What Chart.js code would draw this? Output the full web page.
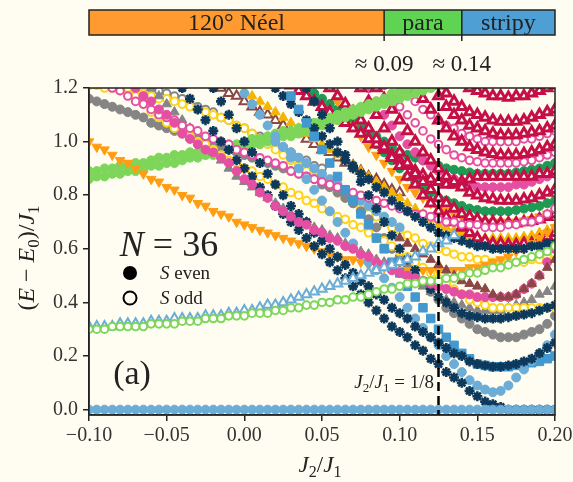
<!DOCTYPE html>
<html>
<head>
<meta charset="utf-8">
<style>
  html, body { margin: 0; padding: 0; background: #fffdf1; overflow: hidden; width: 573px; height: 482px; }
  canvas { display: block; }
</style>
<script src="https://cdn.jsdelivr.net/npm/chart.js@4.4.1/dist/chart.umd.min.js"></script>
</head>
<body>
<canvas id="spectrum" width="600" height="482"></canvas>
<script>
const _ = null;

// J2/J1 grid
const j2 = [
  -0.100, -0.095, -0.090, -0.085, -0.080, -0.075, -0.070, -0.065, -0.060, -0.055,
  -0.050, -0.045, -0.040, -0.035, -0.030, -0.025, -0.020, -0.015, -0.010, -0.005,
  0.000, 0.005, 0.010, 0.015, 0.020, 0.025, 0.030, 0.035, 0.040, 0.045,
  0.050, 0.055, 0.060, 0.065, 0.070, 0.075, 0.080, 0.085, 0.090, 0.095,
  0.100, 0.105, 0.110, 0.115, 0.120, 0.125, 0.130, 0.135, 0.140, 0.145,
  0.150, 0.155, 0.160, 0.165, 0.170, 0.175, 0.180, 0.185, 0.190, 0.195, 0.200
];

const xTicks = [-0.10, -0.05, 0.00, 0.05, 0.10, 0.15, 0.20];
const yTicks = [0.0, 0.2, 0.4, 0.6, 0.8, 1.0, 1.2];

const phaseEdges = [-0.1, 0.09, 0.14, 0.2];
const phaseNames = ["120° Néel", "para", "stripy"];
const phaseColors = ["#ff9a30", "#5fd352", "#4d9fd4"];
const phaseLabels = ["≈ 0.09", "≈ 0.14"];
const markJ2 = 0.125;

// levels (E - E0)/J1
const ground = [
  0, 0, 0, 0, 0, 0, 0, 0, 0, 0,
  0, 0, 0, 0, 0, 0, 0, 0, 0, 0,
  0, 0, 0, 0, 0, 0, 0, 0, 0, 0,
  0, 0, 0, 0, 0, 0, 0, 0, 0, 0,
  0, 0, 0, 0, 0, 0, 0, 0, 0, 0,
  0, 0, 0, 0, 0, 0, 0, 0, 0, 0, 0
];
const oddGreen = [
  0.30, 0.30, 0.30, 0.31, 0.31, 0.31, 0.31, 0.31, 0.32, 0.32,
  0.32, 0.32, 0.33, 0.33, 0.33, 0.34, 0.34, 0.34, 0.35, 0.35,
  0.35, 0.36, 0.36, 0.36, 0.37, 0.37, 0.38, 0.38, 0.39, 0.39,
  0.40, 0.40, 0.41, 0.41, 0.42, 0.42, 0.43, 0.44, 0.45, 0.45,
  0.46, 0.47, 0.47, 0.48, 0.48, 0.48, 0.49, 0.49, 0.50, 0.51,
  0.51, 0.52, 0.53, 0.53, 0.54, 0.55, 0.56, 0.57, 0.58, 0.59, 0.61
];
const oddBlueTri = [
  0.31, 0.31, 0.31, 0.31, 0.32, 0.32, 0.32, 0.32, 0.33, 0.33,
  0.33, 0.34, 0.34, 0.34, 0.34, 0.35, 0.35, 0.35, 0.36, 0.36,
  0.37, 0.37, 0.38, 0.39, 0.39, 0.40, 0.41, 0.42, 0.43, 0.44,
  0.45, 0.46, 0.47, 0.48, 0.49, 0.50, 0.51, 0.52, 0.53, 0.54,
  0.55, 0.56, 0.57, 0.59, 0.60, 0.62, 0.63, 0.65, _, _,
  _, _, _, _, _, _, _, _, _, _, _
];
const orangeTri = [
  1.00, 0.98, 0.97, 0.95, 0.93, 0.92, 0.90, 0.88, 0.86, 0.85,
  0.83, 0.82, 0.80, 0.79, 0.77, 0.76, 0.74, 0.73, 0.72, 0.70,
  0.69, 0.68, 0.67, 0.66, 0.65, 0.64, 0.63, 0.62, 0.61, 0.60,
  0.59, 0.58, 0.57, 0.56, 0.56, 0.55, 0.54, 0.54, 0.53, 0.53,
  0.52, 0.52, 0.52, 0.52, 0.52, 0.52, 0.52, 0.52, 0.52, 0.53,
  0.53, 0.54, 0.55, 0.56, 0.57, 0.59, 0.60, 0.62, 0.64, 0.66, 0.68
];
const pinkEven = [
  _, _, _, _, _, 1.22, 1.20, 1.17, 1.15, 1.12,
  1.10, 1.07, 1.03, 1.01, 0.99, 0.97, 0.96, 0.94, 0.92, 0.89,
  0.86, 0.84, 0.81, 0.79, 0.76, 0.74, 0.72, 0.70, 0.69, 0.67,
  0.66, 0.64, 0.63, 0.61, 0.60, 0.58, 0.57, 0.55, 0.54, 0.52,
  0.51, 0.50, 0.49, 0.48, 0.47, 0.46, 0.45, 0.44, 0.43, 0.43,
  0.42, 0.42, 0.42, 0.42, 0.42, 0.43, 0.45, 0.47, 0.50, 0.55, 0.60
];
const pinkOdd = [
  _, _, 1.22, 1.20, 1.19, 1.17, 1.15, 1.14, 1.12, 1.10,
  1.09, 1.08, 1.06, 1.05, 1.04, 1.02, 1.01, 1.00, 0.99, 0.97,
  0.96, 0.95, 0.94, 0.93, 0.92, 0.91, 0.89, 0.88, 0.87, 0.86,
  0.85, 0.84, 0.83, 0.82, 0.81, 0.80, 0.79, 0.78, 0.77, 0.76,
  0.75, 0.74, 0.73, 0.73, 0.72, 0.71, 0.70, 0.70, 0.69, 0.69,
  0.69, 0.68, 0.68, 0.68, 0.69, 0.69, 0.70, 0.70, 0.71, 0.73, 0.75
];
const grayEven = [
  1.16, 1.15, 1.14, 1.13, 1.12, 1.11, 1.10, 1.09, 1.07, 1.06,
  1.05, 1.04, 1.03, 1.02, 1.01, 1.00, 0.99, 0.98, 0.97, 0.96,
  0.95, 0.94, 0.93, 0.92, 0.91, 0.90, 0.89, 0.88, 0.87, 0.86,
  0.84, 0.83, 0.81, 0.79, 0.77, 0.74, 0.71, 0.68, 0.64, 0.60,
  0.57, 0.53, 0.50, 0.47, 0.44, 0.41, 0.38, 0.36, 0.34, 0.32,
  0.30, 0.29, 0.28, 0.27, 0.27, 0.27, 0.28, 0.29, 0.30, 0.32, 0.35
];
const grayTri = [
  _, _, _, _, _, _, _, _, 1.20, 1.17,
  1.14, 1.11, 1.08, 1.05, 1.02, 0.99, 0.96, 0.93, 0.90, 0.87,
  0.85, 0.83, 0.81, 0.79, 0.77, 0.75, 0.73, 0.72, 0.70, 0.68,
  0.67, 0.65, 0.64, 0.62, 0.61, 0.59, 0.58, 0.56, 0.55, 0.53,
  0.52, 0.50, 0.48, 0.46, 0.44, 0.42, 0.41, 0.40, 0.39, 0.38,
  0.37, 0.37, 0.37, 0.37, 0.38, 0.39, 0.40, 0.41, 0.43, 0.44, 0.46
];
const brownTri = [
  _, _, _, _, _, _, _, _, _, _,
  _, _, _, _, _, _, _, _, _, _,
  _, _, _, _, _, _, _, _, _, _,
  _, _, _, _, _, _, _, _, _, _,
  0.64, 0.62, 0.60, 0.58, 0.56, 0.54, 0.52, 0.50, 0.48, 0.47,
  0.46, 0.45, 0.43, 0.42, 0.42, 0.43, 0.45, 0.47, 0.50, 0.53, 0.56
];
const yellowLow = [
  _, _, _, _, _, 1.20, 1.17, 1.14, 1.11, 1.09,
  1.07, 1.05, 1.03, 1.02, 1.00, 0.99, 0.97, 0.95, 0.93, 0.92,
  0.90, 0.89, 0.87, 0.86, 0.84, 0.83, 0.81, 0.80, 0.78, 0.77,
  0.75, 0.74, 0.72, 0.71, 0.69, 0.68, 0.66, 0.64, 0.63, 0.61,
  0.59, 0.57, 0.55, 0.53, 0.51, 0.49, 0.47, 0.45, 0.43, 0.41,
  0.40, 0.39, 0.38, 0.38, 0.38, 0.38, 0.38, 0.38, 0.38, 0.38, 0.38
];
const yellowUp = [
  1.21, 1.21, 1.20, 1.20, 1.19, 1.19, 1.18, 1.18, 1.17, 1.16,
  1.16, 1.15, 1.14, 1.13, 1.12, 1.11, 1.10, 1.09, 1.08, 1.06,
  1.05, 1.03, 1.01, 0.99, 0.97, 0.95, 0.93, 0.91, 0.89, 0.87,
  0.85, 0.83, 0.81, 0.79, 0.77, 0.75, 0.73, 0.72, 0.70, 0.68,
  0.67, 0.65, 0.64, 0.62, 0.61, 0.60, 0.59, 0.58, 0.57, 0.57,
  0.56, 0.56, 0.55, 0.55, 0.55, 0.55, 0.55, 0.56, 0.56, 0.57, 0.58
];
const greenA = [
  0.89, 0.89, 0.90, 0.90, 0.91, 0.91, 0.92, 0.92, 0.93, 0.94,
  0.94, 0.95, 0.95, 0.96, 0.96, 0.97, 0.98, 0.98, 0.99, 0.99,
  1.00, 1.01, 1.01, 1.02, 1.03, 1.04, 1.04, 1.05, 1.06, 1.07,
  1.08, 1.09, 1.10, 1.11, 1.12, 1.13, 1.14, 1.15, 1.16, 1.18,
  1.19, 1.20, 1.21, _, _, _, _, _, _, _,
  _, _, _, _, _, _, _, _, _, _, _
];
const greenB = [
  0.86, 0.87, 0.87, 0.88, 0.88, 0.89, 0.89, 0.90, 0.91, 0.91,
  0.92, 0.92, 0.93, 0.94, 0.94, 0.95, 0.95, 0.96, 0.97, 0.97,
  0.98, 0.99, 0.99, 1.00, 1.01, 1.02, 1.02, 1.03, 1.04, 1.05,
  1.06, 1.07, 1.08, 1.09, 1.10, 1.11, 1.12, 1.13, 1.14, 1.15,
  1.16, 1.17, 1.18, 1.19, 1.20, 1.21, _, _, _, _,
  _, _, _, _, _, _, _, _, _, _, _
];
const navyA = [
  _, _, _, _, _, _, _, _, _, _,
  _, _, 1.20, 1.16, 1.12, 1.08, 1.04, 1.00, 0.97, 0.93,
  0.90, 0.87, 0.83, 0.80, 0.76, 0.73, 0.70, 0.67, 0.64, 0.61,
  0.58, 0.55, 0.52, 0.49, 0.46, 0.43, 0.40, 0.37, 0.34, 0.31,
  0.29, 0.27, 0.24, 0.22, 0.19, 0.17, 0.14, 0.12, 0.10, 0.07,
  0.05, 0.03, 0.02, 0.01, 0, 0, 0, 0, 0, 0, 0
];
const navyB = [
  _, _, _, _, _, _, _, _, _, _,
  _, _, _, _, _, _, 1.20, 1.15, 1.10, 1.05,
  1.00, 0.96, 0.92, 0.88, 0.84, 0.80, 0.76, 0.73, 0.70, 0.66,
  0.63, 0.60, 0.57, 0.54, 0.51, 0.48, 0.46, 0.43, 0.41, 0.38,
  0.36, 0.34, 0.31, 0.29, 0.27, 0.25, 0.23, 0.21, 0.20, 0.18,
  0.17, 0.165, 0.16, 0.16, 0.165, 0.17, 0.18, 0.19, 0.21, 0.23, 0.25
];
const navyC = [
  _, _, _, _, _, _, _, _, _, _,
  _, _, _, _, _, _, _, _, _, _,
  _, _, _, _, _, _, _, _, 1.20, 1.15,
  1.10, 1.05, 1.00, 0.95, 0.90, 0.85, 0.80, 0.75, 0.70, 0.65,
  0.60, 0.56, 0.52, 0.48, 0.45, 0.42, 0.40, 0.38, 0.36, 0.35,
  0.345, 0.34, 0.34, 0.34, 0.345, 0.35, 0.355, 0.36, 0.37, 0.38, 0.39
];
const navyUp = [
  _, _, _, _, _, _, _, _, _, _,
  _, _, _, _, _, _, _, _, _, _,
  _, _, _, _, 1.20, 1.17, 1.14, 1.11, 1.08, 1.05,
  1.02, 0.99, 0.96, 0.93, 0.91, 0.88, 0.86, 0.83, 0.81, 0.78,
  0.76, 0.74, 0.72, 0.70, 0.68, 0.66, 0.65, 0.64, 0.63, 0.62,
  0.61, 0.61, 0.60, 0.60, 0.60, 0.60, 0.60, 0.61, 0.61, 0.62, 0.62
];
const blueSq = [
  _, _, _, _, _, _, _, _, _, _,
  _, _, _, _, _, _, _, _, _, _,
  _, _, _, _, _, 1.22, 1.17, 1.12, 1.07, 1.02,
  0.97, 0.92, 0.87, 0.82, 0.78, 0.73, 0.69, 0.64, 0.60, 0.55,
  0.51, 0.46, 0.42, 0.38, 0.34, 0.30, 0.27, 0.24, 0.21, 0.19,
  0.17, 0.165, 0.16, 0.16, 0.16, 0.165, 0.17, 0.175, 0.18, 0.19, 0.20
];
const blueEven = [
  _, _, _, _, _, _, _, _, _, _,
  _, _, _, _, _, _, _, _, _, _,
  1.18, 1.14, 1.10, 1.06, 1.02, 0.98, 0.94, 0.90, 0.86, 0.82,
  0.78, 0.74, 0.70, 0.66, 0.62, 0.58, 0.55, 0.52, 0.49, 0.455,
  0.42, 0.38, 0.34, 0.305, 0.27, 0.24, 0.20, 0.17, 0.14, 0.11,
  0.09, 0.075, 0.065, 0.07, 0.09, 0.12, 0.15, 0.18, 0.21, 0.24, 0.28
];
const blueUp = [
  _, _, _, _, _, _, _, _, _, _,
  _, _, _, _, _, _, _, _, _, _,
  _, _, _, _, 1.00, 0.98, 0.96, 0.94, 0.92, 0.90,
  0.88, 0.86, 0.84, 0.82, 0.80, 0.78, 0.76, 0.74, 0.72, 0.70,
  0.68, _, _, _, _, _, _, _, _, _,
  _, _, _, _, _, _, _, _, _, _, _
];
const grayOdd = [
  _, _, _, _, _, _, _, _, 1.20, 1.19,
  1.18, 1.17, 1.16, 1.14, 1.13, 1.12, 1.11, 1.09, 1.08, 1.06,
  1.05, 1.03, 1.02, 1.00, 0.99, 0.97, 0.96, 0.94, 0.93, 0.91,
  0.90, _, _, _, _, _, _, _, _, _,
  _, _, _, _, _, _, _, _, _, _,
  _, _, _, _, _, _, _, _, _, _, _
];
const brownOdd = [
  _, _, _, _, _, _, _, _, _, _,
  _, _, _, _, _, _, _, 1.20, 1.18, 1.17,
  1.15, 1.13, 1.11, 1.10, 1.08, 1.06, 1.04, 1.03, 1.01, 0.99,
  0.97, 0.96, 0.94, 0.92, 0.91, 0.89, 0.87, 0.86, 0.84, 0.82,
  0.81, _, _, _, _, _, _, _, _, _,
  _, _, _, _, _, _, _, _, _, _, _
];
const goldTri = [
  _, _, _, _, _, _, _, _, _, _,
  _, _, _, _, _, _, _, _, _, 1.21,
  1.19, 1.17, 1.15, 1.13, 1.11, 1.09, 1.07, 1.05, 1.03, 1.01,
  0.99, 0.97, 0.95, 0.93, 0.91, 0.89, 0.87, 0.85, 0.83, 0.81,
  0.79, 0.77, 0.75, 0.73, 0.71, 0.69, 0.68, 0.67, 0.66, 0.65,
  0.645, 0.64, 0.64, 0.64, 0.64, 0.64, 0.645, 0.65, 0.66, 0.67, 0.68
];
const crim0 = [
  _, _, _, _, _, _, _, _, _, _,
  _, _, _, _, _, _, _, _, _, _,
  _, _, _, _, _, _, 1.21, 1.19, 1.17, 1.15,
  1.13, 1.11, 1.09, 1.07, 1.05, 1.03, 1.01, 0.99, 0.97, 0.95,
  0.93, 0.91, 0.89, 0.875, 0.86, 0.85, 0.84, 0.84, 0.85, 0.86,
  0.87, 0.87, 0.87, 0.87, 0.87, 0.87, 0.87, 0.87, 0.88, 0.88, 0.89
];
const crim1 = [
  _, _, _, _, _, _, _, _, _, _,
  _, _, _, _, _, _, _, _, _, _,
  _, _, _, _, _, _, _, _, _, _,
  _, 1.20, 1.17, 1.14, 1.11, 1.08, 1.05, 1.01, 0.98, 0.94,
  0.91, 0.87, 0.84, 0.80, 0.77, 0.74, 0.72, 0.70, 0.68, 0.66,
  0.64, 0.63, 0.62, 0.62, 0.615, 0.615, 0.62, 0.62, 0.63, 0.645, 0.66
];
const crim2 = [
  _, _, _, _, _, _, _, _, _, _,
  _, _, _, _, _, _, _, _, _, _,
  _, _, _, _, _, _, _, _, _, _,
  _, _, _, _, _, _, _, 1.20, 1.16, 1.12,
  1.08, 1.04, 1.00, 0.96, 0.93, 0.90, 0.87, 0.85, 0.83, 0.81,
  0.80, 0.79, 0.785, 0.78, 0.78, 0.78, 0.785, 0.79, 0.80, 0.81, 0.82
];
const crim3 = [
  _, _, _, _, _, _, _, _, _, _,
  _, _, _, _, _, _, _, _, _, _,
  _, _, _, _, _, _, _, _, _, _,
  _, _, _, _, _, _, _, _, _, _,
  _, _, 1.20, 1.16, 1.12, 1.08, 1.05, 1.02, 1.00, 0.98,
  0.97, 0.96, 0.955, 0.95, 0.95, 0.95, 0.955, 0.96, 0.97, 0.98, 0.99
];
const crim4 = [
  _, _, _, _, _, _, _, _, _, _,
  _, _, _, _, _, _, _, _, _, _,
  _, _, _, _, _, _, _, _, _, _,
  _, _, _, _, _, _, _, _, _, _,
  _, _, _, _, _, 1.21, 1.18, 1.15, 1.13, 1.11,
  1.10, 1.09, 1.08, 1.075, 1.075, 1.075, 1.08, 1.09, 1.10, 1.11, 1.12
];
const crim5 = [
  _, _, _, _, _, _, _, _, _, _,
  _, _, _, _, _, _, _, _, _, _,
  _, _, _, _, _, _, _, _, _, _,
  _, _, _, _, _, _, _, _, _, _,
  _, _, _, _, _, _, _, _, 1.22, 1.20,
  1.19, 1.18, 1.17, 1.17, 1.165, 1.17, 1.17, 1.18, 1.19, 1.20, 1.21
];
const crim6 = [
  _, _, _, _, _, _, _, _, _, _,
  _, _, _, _, _, _, _, _, _, _,
  _, _, _, _, _, _, _, _, _, _,
  _, _, _, _, _, _, _, _, _, _,
  _, _, _, _, 1.21, 1.17, 1.13, 1.10, 1.08, 1.06,
  1.05, 1.04, 1.03, 1.025, 1.025, 1.025, 1.03, 1.035, 1.04, 1.05, 1.06
];
const crim7 = [
  _, _, _, _, _, _, _, _, _, _,
  _, _, _, _, _, _, _, _, _, _,
  _, _, _, _, _, _, _, _, _, _,
  _, _, _, _, _, 1.20, 1.15, 1.10, 1.05, 1.00,
  0.96, 0.92, 0.88, 0.85, 0.82, 0.79, 0.77, 0.75, 0.73, 0.72,
  0.71, 0.70, 0.70, 0.695, 0.695, 0.695, 0.70, 0.705, 0.71, 0.72, 0.73
];
const pinkU2 = [
  _, _, _, _, _, _, _, _, _, _,
  _, _, _, _, _, _, _, _, _, _,
  _, _, _, _, _, _, _, _, _, _,
  _, _, _, _, _, _, 1.20, 1.15, 1.10, 1.06,
  1.02, 0.99, 0.96, 0.93, 0.91, 0.89, 0.87, 0.86, 0.85, 0.84,
  0.83, 0.83, 0.83, 0.83, 0.83, 0.84, 0.84, 0.85, 0.86, 0.87, 0.88
];
const pinkU3 = [
  _, _, _, _, _, _, _, _, _, _,
  _, _, _, _, _, _, _, _, _, _,
  _, _, _, _, _, _, _, _, _, _,
  _, _, _, _, _, _, _, _, _, _,
  1.22, 1.18, 1.15, 1.12, 1.10, 1.08, 1.06, 1.05, 1.03, 1.02,
  1.01, 1.00, 1.00, 1.00, 1.00, 1.00, 1.01, 1.01, 1.02, 1.03, 1.04
];
const pinkU4 = [
  _, _, _, _, _, _, _, _, _, _,
  _, _, _, _, _, _, _, _, _, _,
  _, _, _, _, _, _, _, _, _, _,
  _, _, _, _, _, _, _, _, 1.21, 1.17,
  1.13, 1.10, 1.07, 1.04, 1.01, 0.99, 0.97, 0.95, 0.94, 0.93,
  0.925, 0.92, 0.92, 0.92, 0.92, 0.92, 0.925, 0.93, 0.94, 0.95, 0.96
];
const dkGreen1 = [
  _, _, _, _, _, _, _, _, _, _,
  _, _, _, _, _, _, _, _, _, _,
  _, _, _, _, _, _, _, _, 1.20, 1.18,
  1.16, 1.14, 1.12, 1.10, 1.08, 1.06, 1.04, 1.02, 1.00, 0.98,
  0.96, 0.95, 0.94, 0.93, 0.92, 0.91, 0.90, 0.895, 0.89, 0.885,
  0.88, 0.88, 0.88, 0.88, 0.88, 0.885, 0.89, 0.895, 0.90, 0.91, 0.92
];
const dkGreen2 = [
  _, _, _, _, _, _, _, _, _, _,
  _, _, _, _, _, _, _, _, _, _,
  _, _, _, _, _, _, _, _, _, _,
  _, _, _, _, 1.10, 1.06, 1.02, 0.99, 0.96, 0.93,
  0.90, 0.87, 0.85, 0.83, 0.81, 0.79, 0.78, 0.77, 0.76, 0.75,
  0.745, 0.74, 0.74, 0.74, 0.74, 0.745, 0.75, 0.755, 0.76, 0.77, 0.78
];
const orangeU = [
  _, _, _, _, _, _, _, _, _, _,
  _, _, _, _, _, _, _, _, _, _,
  _, _, _, _, _, _, _, _, _, _,
  _, _, 1.15, 1.10, 1.06, 1.02, 0.98, 0.95, 0.92, 0.89,
  0.86, 0.83, 0.81, 0.79, 0.77, 0.75, 0.74, 0.73, 0.72, 0.71,
  0.705, 0.70, 0.70, 0.70, 0.70, 0.70, 0.705, 0.71, 0.72, 0.73, 0.74
];

const FONT = '"Liberation Serif", "DejaVu Serif", serif';
const INK = "#222";
const PAPER = "#fffdf1";

const LBLUE = "#6badd6", BLUE = "#4298cf", NAVY = "#0d3a5c", GRAY = "#858585";
const PINK = "#e54fa3", YELLOW = "#ffd21a", ORANGE = "#ff9d12", LGREEN = "#7dd65a";
const DGREEN = "#1f9a55", CRIMSON = "#c50f47", BROWN = "#8b4646", GOLD = "#f4b400";

// drawing order: first = bottom, last = top
const series = [
  { y: grayOdd, c: GRAY, m: "circle", open: true },
  { y: brownOdd, c: BROWN, m: "triangle", open: true },
  { y: goldTri, c: GOLD, m: "triangle" },
  { y: yellowUp, c: YELLOW, m: "circle", open: true },
  { y: dkGreen1, c: DGREEN, m: "circle" },
  { y: dkGreen2, c: DGREEN, m: "circle" },
  { y: orangeU, c: ORANGE, m: "triangle", rot: 180 },
  { y: pinkU3, c: PINK, m: "circle", open: true },
  { y: pinkU4, c: PINK, m: "circle", open: true },
  { y: pinkU2, c: PINK, m: "circle" },
  { y: crim0, c: CRIMSON, m: "triangle", open: true, thick: true },
  { y: crim1, c: CRIMSON, m: "triangle", open: true, thick: true },
  { y: crim2, c: CRIMSON, m: "triangle", open: true, thick: true },
  { y: crim3, c: CRIMSON, m: "triangle", open: true, thick: true },
  { y: crim4, c: CRIMSON, m: "triangle", open: true, thick: true },
  { y: crim5, c: CRIMSON, m: "triangle", open: true, thick: true },
  { y: crim6, c: CRIMSON, m: "triangle", open: true, thick: true },
  { y: crim7, c: CRIMSON, m: "triangle", open: true, thick: true },
  { y: greenB, c: LGREEN, m: "circle" },
  { y: greenA, c: LGREEN, m: "circle" },
  { y: blueUp, c: LBLUE, m: "circle" },
  { y: grayEven, c: GRAY, m: "circle" },
  { y: grayTri, c: GRAY, m: "triangle" },
  { y: yellowLow, c: YELLOW, m: "circle", open: true },
  { y: pinkOdd, c: PINK, m: "circle", open: true },
  { y: orangeTri, c: ORANGE, m: "triangle", rot: 180 },
  { y: navyUp, c: NAVY, m: "star" },
  { y: navyC, c: NAVY, m: "star" },
  { y: blueSq, c: BLUE, m: "rect" },
  { y: blueEven, c: LBLUE, m: "circle" },
  { y: navyB, c: NAVY, m: "star" },
  { y: navyA, c: NAVY, m: "star" },
  { y: pinkEven, c: PINK, m: "circle" },
  { y: brownTri, c: BROWN, m: "triangle" },
  { y: oddBlueTri, c: LBLUE, m: "triangle", open: true },
  { y: oddGreen, c: LGREEN, m: "circle", open: true },
  { y: ground, c: LBLUE, m: "circle" },
];

function radiusFor(s) {
  if (s.m === "rect") return 6;
  if (s.m === "triangle") return 5.5;
  if (s.m === "star") return 5;
  return s.open ? 3.8 : 4.5;
}
function borderFor(s) {
  if (s.m === "star") return 2.6;
  if (s.thick) return 3;
  return s.open ? 2 : 1;
}

const datasets = series.map((s, i) => ({
  data: j2.map((x, k) => ({ x: x, y: s.y[k] })).filter(p => p.y !== null),
  showLine: false,
  clip: 0,
  pointStyle: s.m,
  pointRotation: s.rot || 0,
  pointRadius: radiusFor(s),
  pointBorderWidth: borderFor(s),
  pointBorderColor: s.c,
  pointBackgroundColor: s.open ? "#fffef8" : s.c,
  order: series.length - i,
}));

// rich text: parts are [text, flags] with flags "i" italic, "s" subscript
function rich(ctx, parts, x, y, size, align) {
  const fontOf = f => (f.includes("i") ? "italic " : "") + (f.includes("s") ? Math.round(size * 0.7) : size) + "px " + FONT;
  let w = 0;
  parts.forEach(([t, f]) => { ctx.font = fontOf(f); w += ctx.measureText(t).width; });
  let cx = align === "center" ? x - w / 2 : align === "right" ? x - w : x;
  ctx.textAlign = "left";
  ctx.textBaseline = "alphabetic";
  parts.forEach(([t, f]) => {
    ctx.font = fontOf(f);
    ctx.fillText(t, cx, y + (f.includes("s") ? size * 0.22 : 0));
    cx += ctx.measureText(t).width;
  });
}

const decor = {
  id: "decor",
  beforeDraw(chart) {
    const ctx = chart.ctx;
    ctx.save();
    ctx.fillStyle = PAPER;
    ctx.fillRect(0, 0, chart.width, chart.height);
    ctx.restore();
  },
  afterDatasetsDraw(chart) {
    const ctx = chart.ctx, a = chart.chartArea;
    const px = chart.scales.x.getPixelForValue(markJ2);
    ctx.save();
    ctx.strokeStyle = "#000";
    ctx.lineWidth = 2.5;
    ctx.setLineDash([9, 5]);
    ctx.beginPath();
    ctx.moveTo(px, a.top);
    ctx.lineTo(px, a.bottom);
    ctx.stroke();
    ctx.restore();
  },
  afterDraw(chart) {
    const ctx = chart.ctx, a = chart.chartArea, xs = chart.scales.x;
    ctx.save();
    // frame
    ctx.strokeStyle = INK;
    ctx.lineWidth = 1.5;
    ctx.strokeRect(a.left, a.top, a.right - a.left, a.bottom - a.top);

    // phase bar
    const top = 10, bot = 35;
    for (let i = 0; i < phaseNames.length; i++) {
      const x0 = xs.getPixelForValue(phaseEdges[i]);
      const x1 = xs.getPixelForValue(phaseEdges[i + 1]);
      ctx.fillStyle = phaseColors[i];
      ctx.fillRect(x0, top, x1 - x0, bot - top);
      ctx.fillStyle = INK;
      ctx.font = "24px " + FONT;
      ctx.textAlign = "center";
      ctx.textBaseline = "alphabetic";
      ctx.fillText(phaseNames[i], (x0 + x1) / 2, 30);
    }
    ctx.strokeStyle = INK;
    ctx.lineWidth = 1.5;
    ctx.strokeRect(xs.getPixelForValue(phaseEdges[0]), top,
      xs.getPixelForValue(phaseEdges[3]) - xs.getPixelForValue(phaseEdges[0]), bot - top);
    ctx.beginPath();
    for (let i = 1; i < phaseEdges.length - 1; i++) {
      const xe = xs.getPixelForValue(phaseEdges[i]);
      ctx.moveTo(xe, top);
      ctx.lineTo(xe, bot + 6);
    }
    ctx.stroke();
    ctx.fillStyle = INK;
    ctx.font = "23px " + FONT;
    ctx.textAlign = "center";
    ctx.fillText(phaseLabels[0], xs.getPixelForValue(phaseEdges[1]), 71);
    ctx.fillText(phaseLabels[1], xs.getPixelForValue(phaseEdges[2]), 71);

    // axis titles
    ctx.fillStyle = INK;
    rich(ctx, [["J", "i"], ["2", "s"], ["/", ""], ["J", "i"], ["1", "s"]], 320, 472, 23, "center");
    ctx.save();
    ctx.translate(34, 258);
    ctx.rotate(-Math.PI / 2);
    rich(ctx, [["(", ""], ["E", "i"], [" − ", ""], ["E", "i"], ["0", "s"], [")/", ""], ["J", "i"], ["1", "s"]], 0, 0, 24, "center");
    ctx.restore();

    // annotations
    rich(ctx, [["N", "i"], [" = 36", ""]], 169, 256, 36, "center");
    ctx.fillStyle = "#000";
    ctx.beginPath();
    ctx.arc(130, 273, 7, 0, Math.PI * 2);
    ctx.fill();
    ctx.strokeStyle = "#000";
    ctx.lineWidth = 2;
    ctx.beginPath();
    ctx.arc(130, 298, 6.5, 0, Math.PI * 2);
    ctx.stroke();
    ctx.fillStyle = INK;
    rich(ctx, [["S", "i"], [" even", ""]], 160, 279, 19, "left");
    rich(ctx, [["S", "i"], [" odd", ""]], 160, 304, 19, "left");
    rich(ctx, [["(a)", ""]], 132, 384, 34, "center");
    rich(ctx, [["J", "i"], ["2", "s"], ["/", ""], ["J", "i"], ["1", "s"], [" = 1/8", ""]], 434, 388, 19, "right");
    ctx.restore();
  }
};

const ctx = document.getElementById("spectrum").getContext("2d");

new Chart(ctx, {
  type: "scatter",
  data: { datasets: datasets },
  options: {
    responsive: false,
    animation: false,
    devicePixelRatio: 1,
    events: [],
    layout: { padding: { top: 88, right: 45, bottom: 0, left: 0 } },
    plugins: { legend: { display: false }, tooltip: { enabled: false } },
    scales: {
      x: {
        type: "linear",
        min: -0.1,
        max: 0.2,
        afterBuildTicks: s => { s.ticks = xTicks.map(v => ({ value: v })); },
        afterFit: s => { s.height = 67; },
        ticks: {
          color: "#333",
          font: { family: FONT, size: 20 },
          padding: 3,
          maxRotation: 0,
          autoSkip: false,
          callback: v => (v < -1e-9 ? "−" : "") + Math.abs(v).toFixed(2),
        },
        grid: { display: true, drawOnChartArea: false, drawTicks: true, tickLength: 6, color: INK, lineWidth: 1.5 },
        border: { display: true, color: INK, width: 1.5 },
      },
      y: {
        type: "linear",
        min: -0.02,
        max: 1.2,
        afterBuildTicks: s => { s.ticks = yTicks.map(v => ({ value: v })); },
        afterFit: s => { s.width = 89; },
        ticks: {
          color: "#333",
          font: { family: FONT, size: 20 },
          padding: 5,
          autoSkip: false,
          callback: v => v.toFixed(1),
        },
        grid: { display: true, drawOnChartArea: false, drawTicks: true, tickLength: 6, color: INK, lineWidth: 1.5 },
        border: { display: true, color: INK, width: 1.5 },
      },
    },
  },
  plugins: [decor],
});
</script>
</body>
</html>
